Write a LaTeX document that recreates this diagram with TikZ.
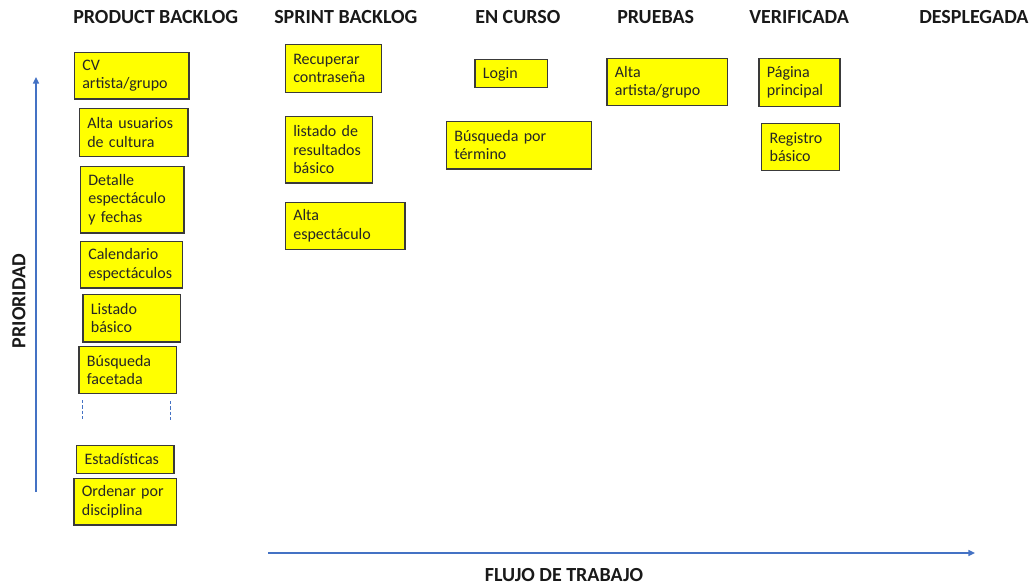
\documentclass[tikz,border=0pt]{standalone}
\usepackage{fontspec}
\setmainfont{Carlito}
\usetikzlibrary{arrows.meta}
\definecolor{cardfill}{HTML}{FFFF00}
\definecolor{cardline}{HTML}{3A3A3A}
\definecolor{cardtext}{HTML}{262626}
\definecolor{axisblue}{HTML}{4472C4}
\tikzset{
  card/.style={draw=cardline, line width=0.9pt, fill=cardfill, anchor=north west,
    inner xsep=6pt, inner ysep=3pt, align=left, text=cardtext,
    font=\fontsize{12}{13.7}\selectfont},
  colhead/.style={anchor=base west, inner sep=0pt, text=black!90,
    font=\fontsize{15}{18}\selectfont\bfseries},
  axislabel/.style={inner sep=0pt, text=black!90,
    font=\fontsize{15}{18}\selectfont\bfseries},
  axis/.style={draw=axisblue, line width=1.1pt, -{Triangle[length=5pt,width=4.5pt]}},
  gap/.style={draw=axisblue, line width=0.7pt, dash pattern=on 2.5pt off 1.5pt}
}
% \card{name}{x}{y}{width in pt}{height in pt}{text}
\newcommand\card[6]{%
  \pgfmathsetmacro\cardtw{#4-12}%
  \node[card, minimum width=#4pt, minimum height=#5pt, text width=\cardtw pt] (#1) at (#2,#3) {#6};}
\begin{document}
\begin{tikzpicture}[x=0.75pt, y=-0.75pt]
\useasboundingbox (0,0) rectangle (1032,585);

% column headings
\node[colhead] (hProduct) at (73,24) {PRODUCT BACKLOG};
\node[colhead] (hSprint)  at (274,24) {SPRINT BACKLOG};
\node[colhead] (hCurso)   at (475,24) {EN CURSO};
\node[colhead] (hPruebas) at (617,24) {PRUEBAS};
\node[colhead] (hVerif)   at (749,24) {VERIFICADA};
\node[colhead] (hDesp)    at (919,24) {DESPLEGADA};

% product backlog
\card{cv}{73.7}{51.7}{86}{35}{CV\\artista/grupo}
\card{altaUsu}{78.7}{107.7}{81.5}{36.2}{Alta usuarios\\de cultura}
\card{detalle}{79.7}{165.7}{77.7}{50}{Detalle\\espectáculo\\y fechas}
\card{calendario}{79.7}{240.7}{76.7}{35}{Calendario\\espectáculos}
\card{listado}{82.3}{293.7}{73}{35.7}{Listado\\básico}
\card{facetada}{78.3}{346}{73}{35}{Búsqueda\\facetada}
\card{estad}{76}{444.7}{73}{21}{Estadísticas}
\card{ordenar}{73.3}{477.7}{76.8}{35}{Ordenar por\\disciplina}

% elided items between the two groups
\coordinate (gapLa) at (82.7,400);
\coordinate (gapLb) at (82.7,419.5);
\coordinate (gapRa) at (170.7,401);
\coordinate (gapRb) at (170.7,420.5);
\draw[gap] (gapLa) -- (gapLb);
\draw[gap] (gapRa) -- (gapRb);

% sprint backlog
\card{recuperar}{284.7}{44}{72}{36}{Recuperar\\contraseña}
\card{resultados}{284.7}{115.7}{65.3}{50}{listado de\\resultados\\básico}
\card{altaEsp}{284.7}{201.7}{89.7}{35.3}{Alta\\espectáculo}

% en curso
\card{login}{474.3}{59.3}{54.3}{21}{Login}
\card{busqTermino}{445.7}{120.7}{108.8}{35.7}{Búsqueda por\\término}

% pruebas
\card{altaArt}{606.3}{57.7}{90.3}{35.5}{Alta\\artista/grupo}

% verificada
\card{pagina}{758.3}{57.7}{60.8}{36.2}{Página\\principal}
\card{registro}{761}{122.7}{58.7}{35.5}{Registro\\básico}

% priority axis
\coordinate (prioLow) at (36,492);
\coordinate (prioHigh) at (36,77);
\draw[axis] (prioLow) -- (prioHigh);
\node[axislabel, rotate=90] (prioLabel) at (19,301) {PRIORIDAD};

% workflow axis
\coordinate (flowStart) at (268,553);
\coordinate (flowEnd) at (975,553);
\draw[axis] (flowStart) -- (flowEnd);
\node[axislabel, anchor=base] (flowLabel) at (564,581) {FLUJO DE TRABAJO};
\end{tikzpicture}
\end{document}
